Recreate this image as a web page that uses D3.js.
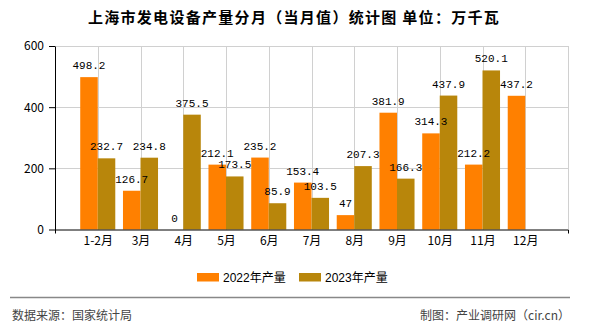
<!DOCTYPE html>
<html><head><meta charset="utf-8">
<script src="https://cdn.jsdelivr.net/npm/d3@7"></script>
<style>body{margin:0;background:#fff}svg{display:block}</style>
</head><body><svg id="c" width="590" height="330"></svg>
<script>
const categories = ["1-2月","3月","4月","5月","6月","7月","8月","9月","10月","11月","12月"];
const values2022 = [498.2,126.7,0,212.1,235.2,153.4,47,381.9,314.3,212.2,437.2];
const values2023 = [232.7,234.8,375.5,173.5,85.9,103.5,207.3,166.3,437.9,520.1,null];
const seriesNames = ["2022年产量","2023年产量"];
const seriesColors = ["#FF8000","#B8860B"];
const yTicks = [0,200,400,600];

const svg = d3.select("#c");
const L=55,R=568,T=46,B=229.5;
const x = d3.scaleLinear().domain([0,categories.length+1]).range([L,R]);
const y = d3.scaleLinear().domain([0,600]).range([B,T]);
const bw = (x(1)-x(0))*0.41;
const monoFont = "'Liberation Mono','Noto Sans CJK SC',monospace";
const cjkFont = "'Noto Sans CJK SC',sans-serif";

// grid
const g = svg.append("g");
g.selectAll(".hg").data(yTicks.filter(d=>d>0)).enter().append("line")
 .attr("x1",L).attr("x2",R).attr("y1",d=>Math.round(y(d))+0.5).attr("y2",d=>Math.round(y(d))+0.5)
 .attr("stroke","#d0d0d0");
g.selectAll(".vg").data(categories).enter().append("line")
 .attr("x1",(d,i)=>Math.round(x(i+1))+0.5).attr("x2",(d,i)=>Math.round(x(i+1))+0.5)
 .attr("y1",T).attr("y2",B).attr("stroke","#d0d0d0");
g.append("line").attr("x1",R+0.5).attr("x2",R+0.5).attr("y1",T).attr("y2",B).attr("stroke","#d0d0d0");

const series=[values2022,values2023];
const barLayer = svg.append("g"), labelLayer = svg.append("g");
series.forEach((vals,s)=>{
  const data = vals.map((v,i)=>({v,i})).filter(d=>d.v!==null);
  barLayer.append("g").selectAll("rect").data(data).enter().append("rect")
   .attr("x",d=>x(d.i+1)+(s===0?-bw:0)).attr("width",bw)
   .attr("y",d=>y(d.v)).attr("height",d=>y(0)-y(d.v)).attr("fill",seriesColors[s]);
  labelLayer.append("g").selectAll("text").data(data).enter().append("text")
   .attr("x",d=>x(d.i+1)+(s===0?-bw/2:bw/2)).attr("y",d=>y(d.v)-8)
   .attr("text-anchor","middle").attr("font-family",monoFont).attr("font-size",11)
   .attr("fill","#000").text(d=>d.v);
});

// axes
const xAxis = d3.axisBottom(x).tickValues(d3.range(1,categories.length+1))
  .tickFormat(d=>categories[d-1]).tickSizeInner(0).tickSizeOuter(4).tickPadding(7);
const xg = svg.append("g").attr("transform",`translate(0,${B})`).call(xAxis);
xg.selectAll("text").attr("font-family",cjkFont).attr("font-size",12).attr("fill","#000");
xg.select(".domain").attr("stroke","#000");

const yAxis = d3.axisLeft(y).tickValues(yTicks).tickSizeInner(6).tickSizeOuter(0).tickPadding(5);
const yg = svg.append("g").attr("transform",`translate(${L},0)`).call(yAxis);
yg.selectAll("text").attr("font-family",cjkFont).attr("font-size",12).attr("fill","#000");
yg.selectAll("line,path").attr("stroke","#000");

// title
svg.append("text").attr("x",294).attr("y",23).attr("text-anchor","middle")
 .attr("font-family",cjkFont).attr("font-size",15).attr("font-weight","bold")
 .attr("letter-spacing","1.3").attr("fill","#000")
 .text("上海市发电设备产量分月（当月值）统计图 单位：万千瓦");

// legend
const legX=[197,299];
seriesNames.forEach((n,i)=>{
  svg.append("rect").attr("x",legX[i]).attr("y",273).attr("width",22).attr("height",8.5).attr("fill",seriesColors[i]);
  svg.append("text").attr("x",legX[i]+26).attr("y",281.5).attr("font-family","'Liberation Sans','Noto Sans CJK SC',sans-serif")
   .attr("font-size",12).attr("fill","#000").text(n);
});

// footer
svg.append("line").attr("x1",10).attr("x2",570).attr("y1",297.5).attr("y2",297.5).attr("stroke","#888").attr("stroke-width",1.5);
svg.append("text").attr("x",12).attr("y",320).attr("font-family",cjkFont).attr("font-size",12).attr("fill","#444").text("数据来源：国家统计局");
svg.append("text").attr("x",570).attr("y",320).attr("text-anchor","end").attr("font-family",cjkFont).attr("font-size",12).attr("fill","#444").text("制图：产业调研网（cir.cn）");
</script></body></html>
